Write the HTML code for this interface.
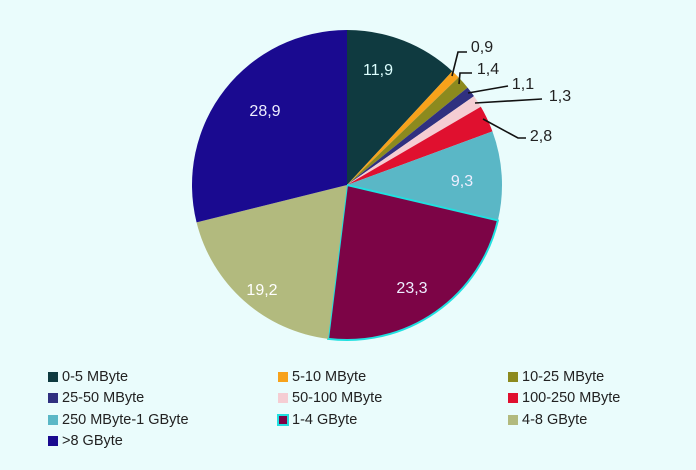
<!DOCTYPE html>
<html><head><meta charset="utf-8"><style>
body{margin:0;width:696px;height:470px;background:#eafcfc;font-family:"Liberation Sans",sans-serif;overflow:hidden}
.lg{position:absolute;font-size:14.5px;color:#222;white-space:nowrap}
.lg i{display:inline-block;width:10px;height:10px;margin-right:4px;vertical-align:-1px}
</style></head><body>
<svg id="s" width="696" height="470" style="position:absolute;left:0;top:0" font-family="Liberation Sans, sans-serif"></svg>
<script>
var vals=[11.9,0.9,1.4,1.1,1.3,2.8,9.3,23.3,19.2,28.9];
var cols=["#0f3a40","#f7a21b","#8c8a1e","#303080","#f5cdd3","#e0102f","#5ab7c6","#7c0446","#b2ba7e","#1a0a90"];
var cx=347,cy=185,r=155,s="",a=0,tot=100.1;
for(var i=0;i<vals.length;i++){var a0=a/tot*2*Math.PI;a+=vals[i];var a1=a/tot*2*Math.PI;
var x0=cx+r*Math.sin(a0),y0=cy-r*Math.cos(a0),x1=cx+r*Math.sin(a1),y1=cy-r*Math.cos(a1);
s+='<path d="M'+cx+','+cy+'L'+x0+','+y0+'A'+r+','+r+' 0 '+((a1-a0)>Math.PI?1:0)+' 1 '+x1+','+y1+'Z" fill="'+cols[i]+'"'+(i==7?' stroke="#20e0e0" stroke-width="2"':'')+'/>';}
var L=[["11,9",378,75,"#dff"],["9,3",462,186,"#eef"],["23,3",412,293,"#eef"],["19,2",262,295,"#fff"],["28,9",265,116,"#eef"],
["0,9",482,52,"#222"],["1,4",488,74,"#222"],["1,1",523,89,"#222"],["1,3",560,101,"#222"],["2,8",541,141,"#222"]];
L.forEach(function(l){s+='<text x="'+l[1]+'" y="'+l[2]+'" fill="'+l[3]+'" font-size="16" text-anchor="middle">'+l[0]+'</text>';});
var P=["452,76 458,52 467,52","459,84 460,73 472,73","468,93 508,86","475,103 542,99","483,119 518,138 526,138"];
P.forEach(function(p){s+='<polyline points="'+p+'" fill="none" stroke="#111" stroke-width="1.6"/>';});
document.getElementById("s").innerHTML=s;
</script>
<div class="lg" style="left:48px;top:369px"><i style="background:#0f3a40"></i>0-5 MByte</div>
<div class="lg" style="left:278px;top:369px"><i style="background:#f7a21b"></i>5-10 MByte</div>
<div class="lg" style="left:508px;top:369px"><i style="background:#8c8a1e"></i>10-25 MByte</div>
<div class="lg" style="left:48px;top:390px"><i style="background:#303080"></i>25-50 MByte</div>
<div class="lg" style="left:278px;top:390px"><i style="background:#f5cdd3"></i>50-100 MByte</div>
<div class="lg" style="left:508px;top:390px"><i style="background:#e0102f"></i>100-250 MByte</div>
<div class="lg" style="left:48px;top:412px"><i style="background:#5ab7c6"></i>250 MByte-1 GByte</div>
<div class="lg" style="left:278px;top:412px"><i style="background:#7c0446;outline:2px solid #20e0e0;outline-offset:-1px"></i>1-4 GByte</div>
<div class="lg" style="left:508px;top:412px"><i style="background:#b2ba7e"></i>4-8 GByte</div>
<div class="lg" style="left:48px;top:433px"><i style="background:#1a0a90"></i>&gt;8 GByte</div>
</body></html>
